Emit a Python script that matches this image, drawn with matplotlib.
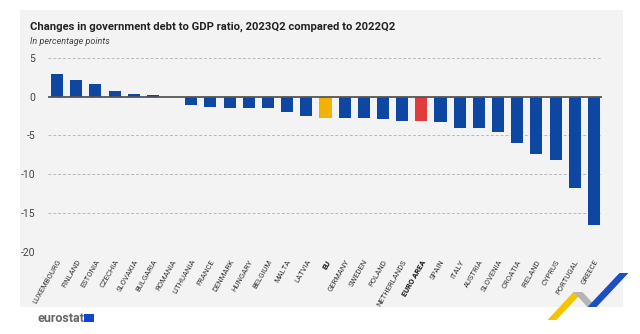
import matplotlib
matplotlib.use("Agg")
import matplotlib.pyplot as plt
from matplotlib.patches import Rectangle, Polygon

plt.rcParams['font.family'] = ['Liberation Sans Narrow', 'Roboto', 'DejaVu Sans']

countries = ['LUXEMBOURG', 'FINLAND', 'ESTONIA', 'CZECHIA', 'SLOVAKIA', 'BULGARIA',
             'ROMANIA', 'LITHUANIA', 'FRANCE', 'DENMARK', 'HUNGARY', 'BELGIUM',
             'MALTA', 'LATVIA', 'EU', 'GERMANY', 'SWEDEN', 'POLAND', 'NETHERLANDS',
             'EURO AREA', 'SPAIN', 'ITALY', 'AUSTRIA', 'SLOVENIA', 'CROATIA',
             'IRELAND', 'CYPRUS', 'PORTUGAL', 'GREECE']
change = [2.9, 2.1, 1.6, 0.8, 0.4, 0.2,
          0.0, -1.1, -1.3, -1.4, -1.5, -1.5,
          -2.0, -2.5, -2.8, -2.8, -2.8, -2.9, -3.1,
          -3.1, -3.3, -4.0, -4.0, -4.6, -6.0,
          -7.4, -8.2, -11.8, -16.6]
yticks = [5, 0, -5, -10, -15, -20]

blue = '#0d47a1'
colors = []
for c in countries:
    if c == 'EU':
        colors.append('#f0b400')
    elif c == 'EURO AREA':
        colors.append('#e03c3c')
    else:
        colors.append(blue)

W, H = 640, 334
fig = plt.figure(figsize=(6.4, 3.34), dpi=100)
fig.patch.set_facecolor('white')

def px(x, y):
    return (x / W, 1 - y / H)

# grey panel
fig.patches.append(Rectangle(px(20, 307), 603 / W, 297 / H, transform=fig.transFigure,
                             facecolor='#f3f3f3', edgecolor='none', zorder=-10))

ax = fig.add_axes([48 / W, 82.3 / H, 554 / W, 193.7 / H])
ax.set_facecolor('none')
x = list(range(len(countries)))
ax.bar(x, change, width=0.63, color=colors, zorder=3)
ax.set_xlim(-0.47, 28.42)
ax.set_ylim(-20, 5)

for s in ax.spines.values():
    s.set_visible(False)
ax.set_yticks(yticks)
ax.set_yticklabels([str(v) for v in yticks], fontsize=7.5, color='#444444')
for v in yticks:
    if v == 0:
        ax.axhline(0, color='#555555', lw=1.3, zorder=4)
    else:
        ax.axhline(v, color='#bbbbbb', lw=0.7, ls=(0, (3, 2)), zorder=1)
ax.tick_params(axis='y', length=0, pad=9)
ax.tick_params(axis='x', length=0, pad=5)
ax.set_xticks(x)
ax.set_xticklabels(countries, rotation=60, ha='right', va='top',
                   rotation_mode='anchor', fontsize=5.5, color='#333333')
for lab in ax.get_xticklabels():
    if lab.get_text() in ('EU', 'EURO AREA'):
        lab.set_fontweight('bold')
        lab.set_color('#111111')

fig.text(30 / W, 1 - 27 / H, 'Changes in government debt to GDP ratio, 2023Q2 compared to 2022Q2',
         fontsize=8.1, fontweight='bold', color='#222222', va='center', ha='left')
fig.text(30 / W, 1 - 41 / H, 'In percentage points', fontsize=6.5, style='italic',
         color='#444444', va='center', ha='left')

# eurostat logo
fig.text(37 / W, 1 - 318 / H, 'eurostat', fontsize=9, fontweight='bold', color='#666666',
         va='center', ha='left')
fig.patches.append(Rectangle(px(84, 322), 10 / W, 8 / H, transform=fig.transFigure,
                             facecolor='#0e47cb', edgecolor='none'))

# decorative chevron
def band(p0, p1, w, color):
    (x0, y0), (x1, y1) = p0, p1
    pts = [px(x0 - w / 2, y0), px(x0 + w / 2, y0), px(x1 + w / 2, y1), px(x1 - w / 2, y1)]
    fig.patches.append(Polygon(pts, closed=True, transform=fig.transFigure,
                               facecolor=color, edgecolor='none'))

band((552, 320), (578, 292), 9, '#f5c400')
band((578, 292), (592, 307), 9, '#b5b5b5')
band((592, 307), (624, 273), 9, '#1d4fc4')

fig.savefig('out.png', dpi=100, facecolor='white')
